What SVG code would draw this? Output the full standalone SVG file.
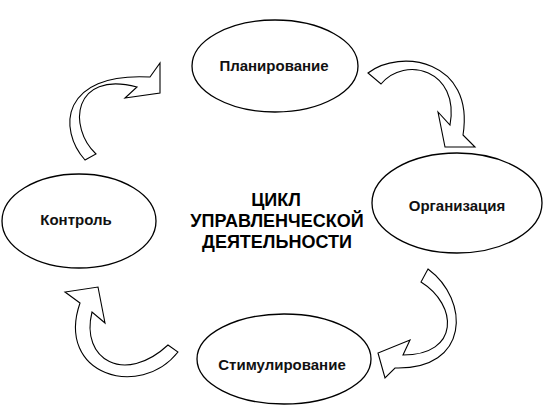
<svg xmlns="http://www.w3.org/2000/svg" width="544" height="414" viewBox="0 0 544 414">
<style>
.node ellipse{fill:#fff;stroke:#000;stroke-width:1.3}
.lbl{font-family:"Liberation Sans",Arial,sans-serif;font-weight:bold;font-size:15px;fill:#111;text-anchor:middle}
.title{font-family:"Liberation Sans",Arial,sans-serif;font-weight:bold;font-size:18px;fill:#000;text-anchor:middle}
.arr path{fill:#fff;stroke:#000;stroke-width:1.1;stroke-linejoin:miter}
</style>
<rect width="544" height="414" fill="#fff"/>
<g id="connectors" class="arr">
<path d="M85,160 C58,130 60,72 150,77 L160,63 L160,93 L125,98 L137,87 C72,70 68,128 96,154 Z"/>
<path d="M368,73 C400,48 475,60 463,135 L475,147 L445,147 L438,112 L450,125 C460,70 405,55 381,84 Z"/>
<path d="M428,269 C470,300 470,370 395,368 L385,378 L378,353 L410,340 L403,355 C460,355 458,305 421,282 Z"/>
<path d="M178,352 C140,400 55,375 80,303 L65,292 L98,287 L105,323 L92,312 C80,360 125,385 168,345 Z"/>
</g>
<g id="planirovanie" class="node">
<ellipse cx="275" cy="66" rx="83" ry="46"/>
<text class="lbl" x="274" y="71">Планирование</text>
</g>
<g id="organizatsiya" class="node">
<ellipse cx="457" cy="203" rx="85" ry="50"/>
<text class="lbl" x="457" y="211">Организация</text>
</g>
<g id="kontrol" class="node">
<ellipse cx="79" cy="221" rx="77" ry="47"/>
<text class="lbl" x="76" y="225">Контроль</text>
</g>
<g id="stimulirovanie" class="node">
<ellipse cx="284" cy="359" rx="87" ry="45"/>
<text class="lbl" x="282" y="370">Стимулирование</text>
</g>
<g id="title">
<text class="title" x="276" y="206">ЦИКЛ</text>
<text class="title" x="277" y="227">УПРАВЛЕНЧЕСКОЙ</text>
<text class="title" x="277" y="248">ДЕЯТЕЛЬНОСТИ</text>
</g>
</svg>
